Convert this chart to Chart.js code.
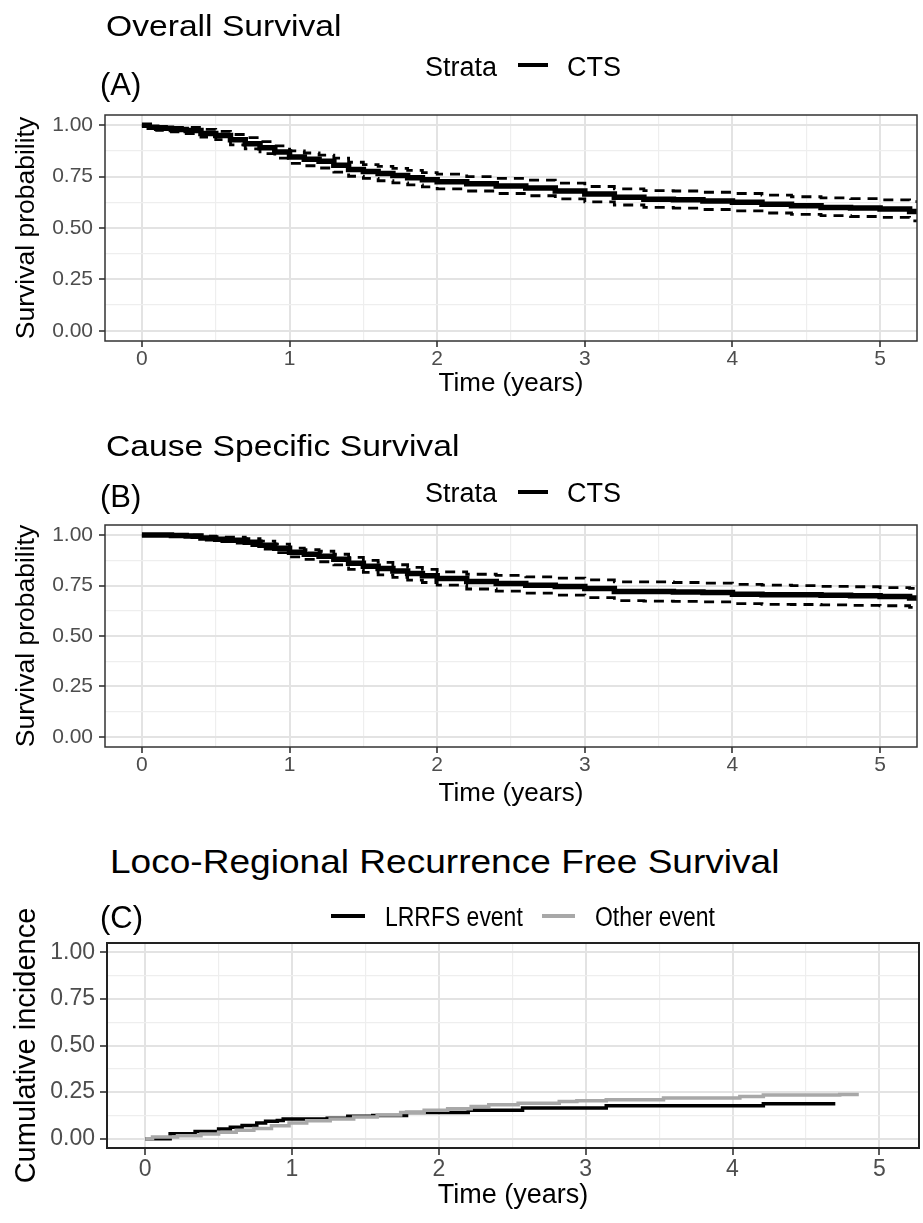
<!DOCTYPE html>
<html>
<head>
<meta charset="utf-8">
<script src="https://cdn.jsdelivr.net/npm/chart.js@4.4.0/dist/chart.umd.min.js"></script>
<style>
  body { margin: 0; background: #fff; width: 923px; height: 1223px; position: relative; overflow: hidden; font-family: "Liberation Sans", Arial, sans-serif; }
  canvas { position: absolute; left: 0; }
  .txt { position: absolute; line-height: 1; white-space: nowrap; color: #000; transform-origin: 0 0; }
  .key { position: absolute; }
</style>
</head>
<body>
<canvas id="chartA" width="923" height="400" style="top:0px;width:923px;height:400px"></canvas>
<canvas id="chartB" width="923" height="390" style="top:420px;width:923px;height:390px"></canvas>
<canvas id="chartC" width="923" height="323" style="top:900px;width:923px;height:323px"></canvas>
<script>
// Tick values
const xTicks = [0, 1, 2, 3, 4, 5];
const yTicks = [0, 0.25, 0.5, 0.75, 1];

// (A) Overall survival
const osTime  = [0, 0.05, 0.1, 0.2, 0.3, 0.4, 0.5, 0.6, 0.7, 0.8, 0.9, 1.0, 1.1, 1.2, 1.3, 1.4, 1.5, 1.6, 1.7, 1.8, 1.9, 2.0, 2.2, 2.4, 2.6, 2.8, 3.0, 3.2, 3.4, 3.6, 3.8, 4.0, 4.2, 4.4, 4.6, 4.8, 5.0, 5.2, 5.25];
const osSurv  = [1, 0.99, 0.985, 0.98, 0.975, 0.96, 0.95, 0.93, 0.91, 0.89, 0.87, 0.845, 0.835, 0.825, 0.805, 0.785, 0.775, 0.765, 0.755, 0.745, 0.735, 0.725, 0.715, 0.705, 0.695, 0.68, 0.665, 0.65, 0.64, 0.638, 0.632, 0.625, 0.615, 0.608, 0.6, 0.597, 0.593, 0.58, 0.575];
const osUpper = [1, 1, 0.995, 0.99, 0.99, 0.98, 0.97, 0.955, 0.94, 0.92, 0.9, 0.875, 0.865, 0.855, 0.84, 0.82, 0.808, 0.8, 0.79, 0.78, 0.77, 0.762, 0.75, 0.742, 0.733, 0.718, 0.702, 0.69, 0.682, 0.68, 0.674, 0.668, 0.66, 0.652, 0.647, 0.643, 0.637, 0.628, 0.625];
const osLower = [1, 0.98, 0.975, 0.968, 0.96, 0.942, 0.93, 0.905, 0.885, 0.862, 0.84, 0.815, 0.803, 0.792, 0.772, 0.752, 0.742, 0.73, 0.72, 0.71, 0.7, 0.69, 0.68, 0.668, 0.657, 0.642, 0.627, 0.612, 0.6, 0.597, 0.59, 0.583, 0.573, 0.566, 0.56, 0.556, 0.552, 0.535, 0.53];

// (B) Cause specific survival
const cssTime  = [0, 0.1, 0.2, 0.3, 0.4, 0.5, 0.6, 0.7, 0.8, 0.9, 1.0, 1.1, 1.2, 1.3, 1.4, 1.5, 1.6, 1.7, 1.8, 1.9, 2.0, 2.2, 2.4, 2.6, 2.8, 3.0, 3.2, 3.4, 3.6, 3.8, 4.0, 4.2, 4.4, 4.6, 4.8, 5.0, 5.2, 5.25];
const cssSurv  = [1, 1, 0.998, 0.995, 0.985, 0.98, 0.975, 0.965, 0.95, 0.935, 0.915, 0.905, 0.895, 0.88, 0.86, 0.845, 0.835, 0.822, 0.81, 0.798, 0.785, 0.77, 0.76, 0.752, 0.745, 0.735, 0.72, 0.72, 0.718, 0.716, 0.707, 0.705, 0.705, 0.702, 0.7, 0.696, 0.688, 0.685];
const cssUpper = [1, 1, 1, 1, 0.995, 0.99, 0.99, 0.982, 0.97, 0.955, 0.935, 0.928, 0.92, 0.905, 0.89, 0.875, 0.865, 0.853, 0.84, 0.83, 0.818, 0.806, 0.8, 0.793, 0.787, 0.778, 0.768, 0.768, 0.765, 0.762, 0.756, 0.752, 0.75, 0.746, 0.744, 0.74, 0.736, 0.735];
const cssLower = [1, 0.998, 0.993, 0.988, 0.975, 0.968, 0.96, 0.948, 0.93, 0.913, 0.892, 0.88, 0.868, 0.852, 0.83, 0.815, 0.803, 0.79, 0.777, 0.765, 0.752, 0.733, 0.722, 0.712, 0.703, 0.69, 0.675, 0.673, 0.672, 0.669, 0.66, 0.657, 0.656, 0.654, 0.652, 0.65, 0.642, 0.64];

// (C) Cumulative incidence
const lrrfsTime = [0, 0.17, 0.34, 0.5, 0.58, 0.66, 0.76, 0.82, 0.9, 0.94, 1.1, 1.24, 1.38, 1.55, 1.78, 2.2, 2.57, 3.14, 4.21, 4.7];
const lrrfsInc  = [0, 0.027, 0.039, 0.052, 0.062, 0.071, 0.084, 0.093, 0.098, 0.105, 0.105, 0.11, 0.12, 0.125, 0.141, 0.152, 0.164, 0.177, 0.1875, 0.1875];
const otherTime = [0, 0.05, 0.22, 0.38, 0.5, 0.62, 0.74, 0.86, 0.98, 1.1, 1.26, 1.42, 1.58, 1.74, 1.9, 2.06, 2.22, 2.34, 2.54, 2.82, 2.94, 3.14, 3.53, 4.05, 4.21, 4.73, 4.86];
const otherInc  = [0, 0.009, 0.016, 0.025, 0.034, 0.045, 0.055, 0.07, 0.084, 0.096, 0.105, 0.116, 0.127, 0.141, 0.152, 0.16, 0.173, 0.182, 0.19, 0.2, 0.204, 0.209, 0.218, 0.227, 0.234, 0.237, 0.237];

const FONT = '"Liberation Sans", Arial, sans-serif';
const pts = (xs, ys) => xs.map((x, i) => ({ x: x, y: ys[i] }));

// majors plus the halfway minor lines (ggplot style)
function withMinor(major) {
  const out = [];
  major.forEach((v, i) => {
    out.push(v);
    if (i < major.length - 1) out.push((v + major[i + 1]) / 2);
  });
  return out;
}

// border all round the panel, on top of the data
const panelBorder = {
  id: 'panelBorder',
  afterDatasetsDraw(chart, args, opts) {
    const { ctx, chartArea: a } = chart;
    ctx.save();
    ctx.strokeStyle = opts.color;
    ctx.lineWidth = opts.width;
    ctx.strokeRect(a.left, a.top, a.right - a.left, a.bottom - a.top);
    ctx.restore();
  }
};

function gridFor(major, tickLen) {
  const isMajor = ctx => ctx.tick && major.includes(ctx.tick.value);
  return {
    color: ctx => isMajor(ctx) ? '#e3e3e3' : '#eeeeee',
    lineWidth: ctx => isMajor(ctx) ? 2 : 1.2,
    drawTicks: true,
    tickLength: tickLen,
    tickWidth: 1.6,
    tickColor: ctx => isMajor(ctx) ? '#333333' : 'rgba(0,0,0,0)'
  };
}

function makeChart(id, datasets, cfg) {
  return new Chart(document.getElementById(id), {
    type: 'line',
    data: { datasets: datasets },
    options: {
      responsive: false,
      animation: false,
      events: [],
      layout: { padding: { top: cfg.padTop, right: cfg.padRight, left: 0, bottom: 0 } },
      plugins: {
        legend: { display: false },
        tooltip: { enabled: false },
        panelBorder: { color: cfg.borderColor, width: cfg.borderWidth }
      },
      elements: { point: { radius: 0 } },
      scales: {
        x: {
          type: 'linear',
          min: cfg.xMin, max: cfg.xMax,
          afterBuildTicks: axis => { axis.ticks = withMinor(xTicks).map(v => ({ value: v })); },
          afterFit: axis => { axis.height = cfg.xAxisHeight; },
          border: { display: false },
          grid: gridFor(xTicks, cfg.tickLen),
          ticks: {
            autoSkip: false, maxRotation: 0, padding: cfg.xTickPad,
            color: '#4d4d4d', font: { family: FONT, size: cfg.tickSize },
            callback: v => xTicks.includes(v) ? String(v) : ''
          },
          title: {
            display: true, text: 'Time (years)', color: '#000',
            font: { family: FONT, size: cfg.titleSize },
            padding: { top: 0, bottom: cfg.xTitlePad }
          }
        },
        y: {
          type: 'linear',
          min: -0.05, max: 1.05,
          afterBuildTicks: axis => { axis.ticks = withMinor(yTicks).map(v => ({ value: v })); },
          afterFit: axis => { axis.width = cfg.yAxisWidth; },
          border: { display: false },
          grid: gridFor(yTicks, cfg.tickLen),
          ticks: {
            autoSkip: false, padding: cfg.yTickPad,
            color: '#4d4d4d', font: { family: FONT, size: cfg.tickSize },
            callback: v => yTicks.includes(v) ? v.toFixed(2) : ''
          },
          title: {
            display: true, text: cfg.yTitle, color: '#000',
            font: { family: FONT, size: cfg.yTitleSize },
            padding: { top: cfg.yTitlePad, bottom: 0 }
          }
        }
      }
    },
    plugins: [panelBorder]
  });
}

function kmSets(time, surv, upper, lower) {
  const dashed = { borderColor: '#000', borderWidth: 2.8, borderDash: [10, 7], stepped: true, fill: false };
  return [
    { label: 'CTS', data: pts(time, surv), borderColor: '#000', borderWidth: 5.5, stepped: true, fill: false },
    Object.assign({ label: 'upper', data: pts(time, upper) }, dashed),
    Object.assign({ label: 'lower', data: pts(time, lower) }, dashed)
  ];
}

const survCfg = {
  xMin: -0.25, xMax: 5.25, padRight: 6, yAxisWidth: 105, tickLen: 6,
  tickSize: 21, titleSize: 26, yTitleSize: 26.5, yTickPad: 6, xTickPad: 0, xTitlePad: 1, yTitlePad: 11,
  borderColor: '#333333', borderWidth: 1.5, yTitle: 'Survival probability'
};

makeChart('chartA', kmSets(osTime, osSurv, osUpper, osLower),
  Object.assign({}, survCfg, { padTop: 115, xAxisHeight: 59 }));

makeChart('chartB', kmSets(cssTime, cssSurv, cssUpper, cssLower),
  Object.assign({}, survCfg, { padTop: 105, xAxisHeight: 63 }));

makeChart('chartC', [
  { label: 'Other event', data: pts(otherTime, otherInc), borderColor: '#a8a8a8', borderWidth: 3.5, stepped: true, fill: false },
  { label: 'LRRFS event', data: pts(lrrfsTime, lrrfsInc), borderColor: '#000', borderWidth: 3.5, stepped: true, fill: false }
], {
  xMin: -0.26, xMax: 5.27, padTop: 43, padRight: 4, yAxisWidth: 107, xAxisHeight: 75, tickLen: 7,
  tickSize: 23, titleSize: 27, yTitleSize: 29, yTickPad: 5, xTickPad: 1, xTitlePad: 11, yTitlePad: 10,
  borderColor: '#222222', borderWidth: 2, yTitle: 'Cumulative incidence'
});

// titles, panel letters and legends as plain text
function addText(str, left, baseline, size, sx) {
  const d = document.createElement('div');
  d.className = 'txt';
  d.textContent = str;
  d.style.left = left + 'px';
  d.style.top = (baseline - 0.8465 * size) + 'px';
  d.style.fontSize = size + 'px';
  if (sx) d.style.transform = 'scaleX(' + sx + ')';
  document.body.appendChild(d);
}
function addKey(left, top, w, h, color) {
  const d = document.createElement('div');
  d.className = 'key';
  Object.assign(d.style, { left: left + 'px', top: top + 'px', width: w + 'px', height: h + 'px', background: color });
  document.body.appendChild(d);
}

addText('Overall Survival', 106, 37, 29, 1.16);
addText('(A)', 100, 95, 31);
addText('Strata', 425, 77, 27);
addKey(518, 63, 30, 4, '#000');
addText('CTS', 567, 77, 27);

addText('Cause Specific Survival', 106, 457, 29, 1.16);
addText('(B)', 100, 507, 31);
addText('Strata', 425, 503, 27);
addKey(518, 490, 30, 4, '#000');
addText('CTS', 567, 503, 27);

addText('Loco-Regional Recurrence Free Survival', 110, 873, 34, 1.09);
addText('(C)', 100, 928, 31);
addKey(331, 914, 34, 4, '#000');
addText('LRRFS event', 385, 927, 27, 0.85);
addKey(542, 914, 33, 4, '#a8a8a8');
addText('Other event', 595, 927, 27, 0.85);
</script>
</body>
</html>
